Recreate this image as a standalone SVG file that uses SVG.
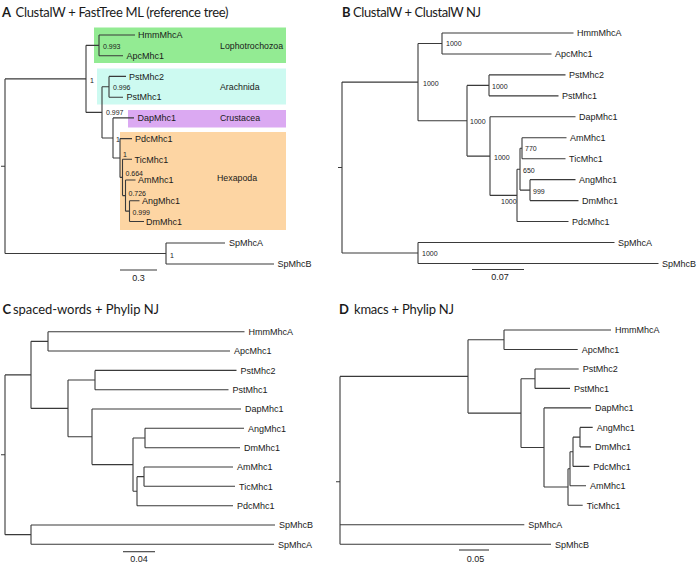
<svg xmlns="http://www.w3.org/2000/svg" width="697" height="565" viewBox="0 0 697 565">
<style>
.br{fill:none;stroke:#3a3a3a;stroke-width:1.1}
.lf{font-family:"Liberation Sans",Arial,sans-serif;font-size:9px;fill:#1a1a1a}
.sp{font-family:"Liberation Sans",Arial,sans-serif;font-size:7px;fill:#1a1a1a}
.gp{font-family:"Liberation Sans",Arial,sans-serif;font-size:8.8px;fill:#1a1a1a}
.sc{font-family:"Liberation Sans",Arial,sans-serif;font-size:9px;fill:#1a1a1a;text-anchor:middle}
.tt{font-family:Lato,"Liberation Sans",sans-serif;font-size:13px;fill:#1a1a1a}
.tb{font-family:Lato,"Liberation Sans",sans-serif;font-size:13px;font-weight:bold;fill:#1a1a1a}
</style>
<rect width="697" height="565" fill="#ffffff"/>

<!-- Panel A -->
<g id="panelA">
  <text class="tb" x="2" y="16.5">A</text>
  <text class="tt" x="15.5" y="16.5" textLength="213">ClustalW + FastTree ML (reference tree)</text>
  <g id="A-group-boxes">
    <rect id="A-lophotrochozoa-box" x="94" y="27.5" width="192" height="35.5" fill="#93eb93"/>
    <rect id="A-arachnida-box" x="97" y="68.5" width="189" height="36" fill="#cdfaf1"/>
    <rect id="A-crustacea-box" x="128" y="110" width="158" height="17.5" fill="#dba9f2"/>
    <rect id="A-hexapoda-box" x="120" y="132" width="166" height="98" fill="#fdd5a3"/>
    <text class="gp" x="220" y="49">Lophotrochozoa</text>
    <text class="gp" x="220" y="90">Arachnida</text>
    <text class="gp" x="220" y="121">Crustacea</text>
    <text class="gp" x="217" y="181">Hexapoda</text>
  </g>
  <g id="A-connectors">
    <path class="br" d="M1,166.2H5 M5,78.9V253.5 M5,78.9H86 M5,253.5H166
      M86,45.35V112.4 M86,45.35H99 M86,112.4H102
      M99,35V55.7 M99,35H135 M99,55.7H123
      M102,86.8V137.95 M102,86.8H109 M102,137.95H113
      M109,76.4V97.2 M109,76.4H126 M109,97.2H123
      M113,117.9V158 M113,117.9H134 M113,158H120
      M120,138.6V177.4 M120,138.6H132 M120,177.4H122.5
      M122.5,159.3V195.6 M122.5,159.3H132 M122.5,195.6H125.5
      M125.5,180V211.15 M125.5,180H135.5 M125.5,211.15H129.5
      M129.5,200.8V221.5 M129.5,200.8H139.5 M129.5,221.5H144
      M166,243V264 M166,243H225 M166,264H274"/>
    <path class="br" d="M120,270H157"/>
  </g>
  <g id="A-support">
    <text class="sp" x="90" y="82.6">1</text>
    <text class="sp" x="103" y="48.6">0.993</text>
    <text class="sp" x="113" y="89.6">0.996</text>
    <text class="sp" x="106" y="115">0.997</text>
    <text class="sp" x="116" y="141.5">1</text>
    <text class="sp" x="123" y="156.6">1</text>
    <text class="sp" x="125.5" y="175.6">0.664</text>
    <text class="sp" x="128.5" y="195.6">0.726</text>
    <text class="sp" x="132.5" y="215">0.999</text>
    <text class="sp" x="170" y="257.6">1</text>
  </g>
  <g id="A-HmmMhcA"><text class="lf" x="138" y="38.2">HmmMhcA</text></g>
  <g id="A-ApcMhc1"><text class="lf" x="126.5" y="58.9">ApcMhc1</text></g>
  <g id="A-PstMhc2"><text class="lf" x="129" y="79.6">PstMhc2</text></g>
  <g id="A-PstMhc1"><text class="lf" x="126.5" y="100.4">PstMhc1</text></g>
  <g id="A-DapMhc1"><text class="lf" x="137.5" y="121.1">DapMhc1</text></g>
  <g id="A-PdcMhc1"><text class="lf" x="135" y="141.8">PdcMhc1</text></g>
  <g id="A-TicMhc1"><text class="lf" x="134.5" y="162.5">TicMhc1</text></g>
  <g id="A-AmMhc1"><text class="lf" x="138" y="183.2">AmMhc1</text></g>
  <g id="A-AngMhc1"><text class="lf" x="142" y="204">AngMhc1</text></g>
  <g id="A-DmMhc1"><text class="lf" x="146" y="224.7">DmMhc1</text></g>
  <g id="A-SpMhcA"><text class="lf" x="229" y="246.2">SpMhcA</text></g>
  <g id="A-SpMhcB"><text class="lf" x="277.5" y="267.2">SpMhcB</text></g>
  <text class="sc" x="138.5" y="281">0.3</text>
</g>

<!-- Panel B -->
<g id="panelB">
  <text class="tb" x="342" y="16.5">B</text>
  <text class="tt" x="353" y="16.5" textLength="128">ClustalW + ClustalW NJ</text>
  <g id="B-connectors">
    <path class="br" d="M338,167.5H342 M342,82.1V253 M342,82.1H418 M342,253H418
      M418,43.5V120.7 M418,43.5H442 M418,120.7H467
      M442,33V53.95 M442,33H573.5 M442,53.95H551.5
      M467,85.4V156.1 M467,85.4H489 M467,156.1H490
      M489,74.9V95.85 M489,74.9H565.5 M489,95.85H558.5
      M490,116.8V195.4 M490,116.8H575.5 M490,195.4H517
      M517,169.2V221.55 M517,169.2H520 M517,221.55H568.5
      M520,148.2V190.1 M520,148.2H522 M520,190.1H530
      M522,137.75V158.7 M522,137.75H566.5 M522,158.7H565.5
      M530,179.65V200.6 M530,179.65H575.5 M530,200.6H578.5
      M418,242.5V263.45 M418,242.5H614.5 M418,263.45H658.5"/>
    <path class="br" d="M472,269.5H524"/>
  </g>
  <g id="B-support">
    <text class="sp" x="446" y="46">1000</text>
    <text class="sp" x="423" y="85.5">1000</text>
    <text class="sp" x="470" y="123.5">1000</text>
    <text class="sp" x="492" y="88.5">1000</text>
    <text class="sp" x="494" y="159.5">1000</text>
    <text class="sp" x="501" y="203.5">1000</text>
    <text class="sp" x="525" y="151">770</text>
    <text class="sp" x="523" y="172.5">650</text>
    <text class="sp" x="533" y="193.5">999</text>
    <text class="sp" x="422" y="255.5">1000</text>
  </g>
  <g id="B-HmmMhcA"><text class="lf" x="577" y="36.2">HmmMhcA</text></g>
  <g id="B-ApcMhc1"><text class="lf" x="555" y="57.15">ApcMhc1</text></g>
  <g id="B-PstMhc2"><text class="lf" x="569" y="78.1">PstMhc2</text></g>
  <g id="B-PstMhc1"><text class="lf" x="562" y="99.05">PstMhc1</text></g>
  <g id="B-DapMhc1"><text class="lf" x="579" y="120">DapMhc1</text></g>
  <g id="B-AmMhc1"><text class="lf" x="570" y="140.95">AmMhc1</text></g>
  <g id="B-TicMhc1"><text class="lf" x="569" y="161.9">TicMhc1</text></g>
  <g id="B-AngMhc1"><text class="lf" x="579" y="182.85">AngMhc1</text></g>
  <g id="B-DmMhc1"><text class="lf" x="582" y="203.8">DmMhc1</text></g>
  <g id="B-PdcMhc1"><text class="lf" x="572" y="224.75">PdcMhc1</text></g>
  <g id="B-SpMhcA"><text class="lf" x="618" y="245.7">SpMhcA</text></g>
  <g id="B-SpMhcB"><text class="lf" x="662" y="266.65">SpMhcB</text></g>
  <text class="sc" x="500" y="280">0.07</text>
</g>

<!-- Panel C -->
<g id="panelC">
  <text class="tb" x="2.5" y="313.5">C</text>
  <text class="tt" x="13" y="313.5" textLength="146">spaced-words + Phylip NJ</text>
  <g id="C-connectors">
    <path class="br" d="M1,454.8H5 M5,374.9V534.65 M5,374.9H31 M5,534.65H31
      M31,341.35V408.4 M31,341.35H48 M31,408.4H68
      M48,331.7V351 M48,331.7H244.5 M48,351H230
      M68,380.05V436.8 M68,380.05H95 M68,436.8H92
      M95,370.4V389.7 M95,370.4H236.5 M95,389.7H228.5
      M92,409V464.6 M92,409H241 M92,464.6H133
      M133,438V491.2 M133,438H145 M133,491.2H137
      M145,428.3V447.7 M145,428.3H244 M145,447.7H240
      M137,476.65V505.7 M137,476.65H144 M137,505.7H233
      M144,467V486.3 M144,467H233 M144,486.3H235
      M31,525V544.3 M31,525H275 M31,544.3H274"/>
    <path class="br" d="M123,551.7H155"/>
  </g>
  <g id="C-HmmMhcA"><text class="lf" x="248.5" y="334.9">HmmMhcA</text></g>
  <g id="C-ApcMhc1"><text class="lf" x="234" y="354.2">ApcMhc1</text></g>
  <g id="C-PstMhc2"><text class="lf" x="240.5" y="373.6">PstMhc2</text></g>
  <g id="C-PstMhc1"><text class="lf" x="232.5" y="392.9">PstMhc1</text></g>
  <g id="C-DapMhc1"><text class="lf" x="245" y="412.2">DapMhc1</text></g>
  <g id="C-AngMhc1"><text class="lf" x="248" y="431.5">AngMhc1</text></g>
  <g id="C-DmMhc1"><text class="lf" x="244" y="450.9">DmMhc1</text></g>
  <g id="C-AmMhc1"><text class="lf" x="237" y="470.2">AmMhc1</text></g>
  <g id="C-TicMhc1"><text class="lf" x="239" y="489.5">TicMhc1</text></g>
  <g id="C-PdcMhc1"><text class="lf" x="237" y="508.9">PdcMhc1</text></g>
  <g id="C-SpMhcB"><text class="lf" x="279" y="528.2">SpMhcB</text></g>
  <g id="C-SpMhcA"><text class="lf" x="278" y="547.5">SpMhcA</text></g>
  <text class="sc" x="139" y="562">0.04</text>
</g>

<!-- Panel D -->
<g id="panelD">
  <text class="tb" x="339" y="314">D</text>
  <text class="tt" x="354" y="314" textLength="100">kmacs + Phylip NJ</text>
  <g id="D-connectors">
    <path class="br" d="M336,481.8H340 M340,376.4V544.3 M340,376.4H468 M340,524.8H524.3 M340,544.3H551
      M468,339.75V413.1 M468,339.75H504 M468,413.1H521
      M504,330V349.5 M504,330H611 M504,349.5H577.7
      M521,378.7V447.5 M521,378.7H535 M521,447.5H544
      M535,369V388.4 M535,369H578.7 M535,388.4H570
      M544,407.9V487.05 M544,407.9H591 M544,487.05H568
      M568,468.8V505.3 M568,468.8H570 M568,505.3H582.7
      M570,451.8V485.8 M570,451.8H573 M570,485.8H586
      M573,437.15V466.4 M573,437.15H580 M573,466.4H589.3
      M580,427.4V446.9 M580,427.4H592.7 M580,446.9H591"/>
    <path class="br" d="M459,550H489"/>
  </g>
  <g id="D-HmmMhcA"><text class="lf" x="615" y="333.2">HmmMhcA</text></g>
  <g id="D-ApcMhc1"><text class="lf" x="581.7" y="352.7">ApcMhc1</text></g>
  <g id="D-PstMhc2"><text class="lf" x="582.7" y="372.2">PstMhc2</text></g>
  <g id="D-PstMhc1"><text class="lf" x="574" y="391.6">PstMhc1</text></g>
  <g id="D-DapMhc1"><text class="lf" x="595" y="411.1">DapMhc1</text></g>
  <g id="D-AngMhc1"><text class="lf" x="596.7" y="430.6">AngMhc1</text></g>
  <g id="D-DmMhc1"><text class="lf" x="595" y="450.1">DmMhc1</text></g>
  <g id="D-PdcMhc1"><text class="lf" x="593.3" y="469.6">PdcMhc1</text></g>
  <g id="D-AmMhc1"><text class="lf" x="590" y="489">AmMhc1</text></g>
  <g id="D-TicMhc1"><text class="lf" x="586.7" y="508.5">TicMhc1</text></g>
  <g id="D-SpMhcA"><text class="lf" x="528.3" y="528">SpMhcA</text></g>
  <g id="D-SpMhcB"><text class="lf" x="555" y="547.5">SpMhcB</text></g>
  <text class="sc" x="475.5" y="561.5">0.05</text>
</g>
</svg>
